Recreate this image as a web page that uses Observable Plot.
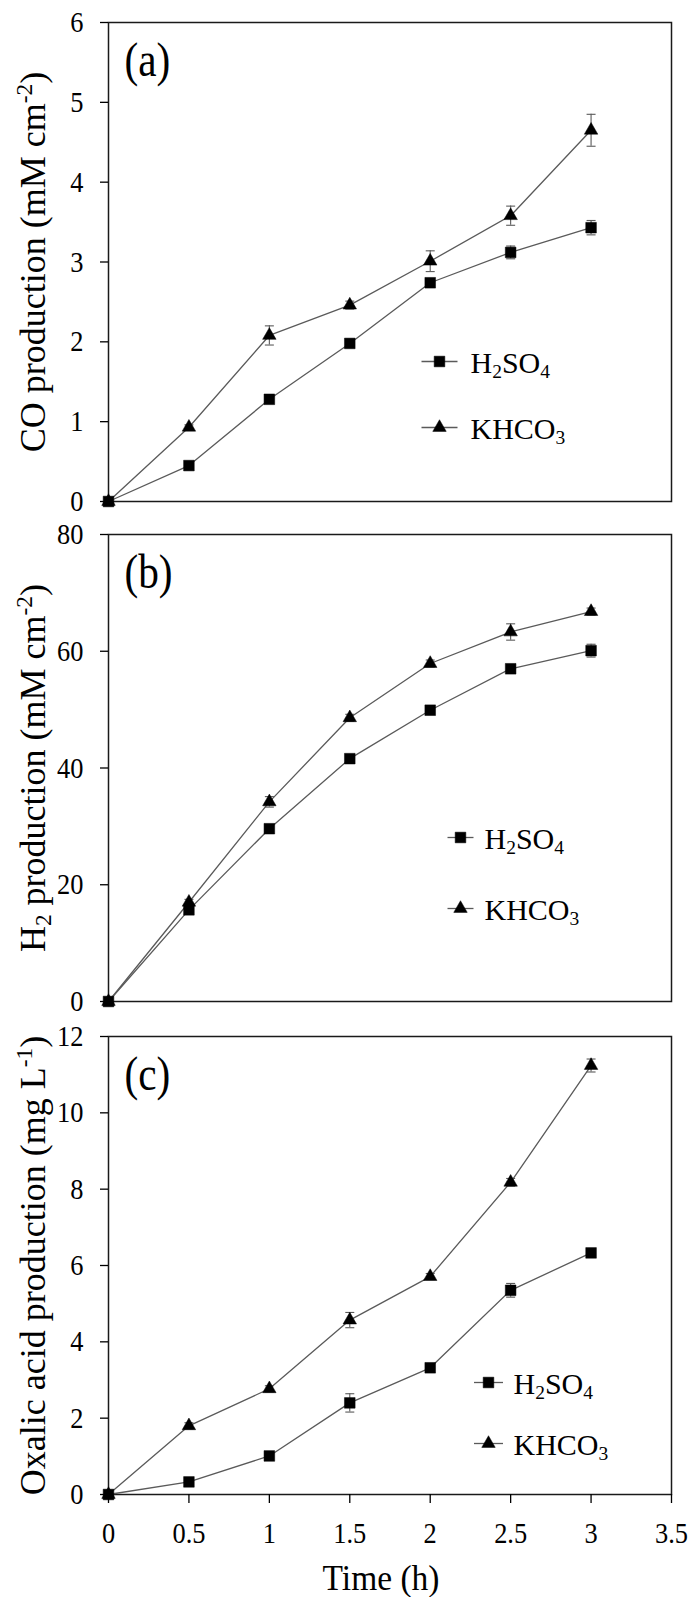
<!DOCTYPE html>
<html><head><meta charset="utf-8">
<script src="https://cdn.jsdelivr.net/npm/d3@7"></script>
<script src="https://cdn.jsdelivr.net/npm/@observablehq/plot@0.6"></script>
<style>
html,body{margin:0;padding:0;background:#fff;}
#chart{width:691px;}
#chart svg{display:block;overflow:visible;}
</style></head><body><div id="chart"></div>
<script>
// ---- data ----
const time = [0, 0.5, 1, 1.5, 2, 2.5, 3];
const seriesNames = ["H_{2}SO_{4}", "KHCO_{3}"];
const xTicks = [0, 0.5, 1, 1.5, 2, 2.5, 3, 3.5];
const xTitle = "Time (h)";

const coH2SO4 = [0, 0.45, 1.28, 1.98, 2.74, 3.12, 3.43];
const coH2SO4Err = [0, 0.03, 0.04, 0.05, 0.05, 0.08, 0.09];
const coKHCO3 = [0, 0.93, 2.08, 2.46, 3.01, 3.58, 4.65];
const coKHCO3Err = [0, 0.03, 0.12, 0.05, 0.13, 0.12, 0.2];
const coTicks = [0, 1, 2, 3, 4, 5, 6];
const coTitle = "CO production (mM cm^{-2})";

const h2H2SO4 = [0, 15.7, 29.6, 41.6, 49.9, 57.0, 60.1];
const h2H2SO4Err = [0, 0.5, 0.6, 0.6, 0.6, 0.7, 1.1];
const h2KHCO3 = [0, 17.0, 34.2, 48.6, 57.9, 63.3, 66.8];
const h2KHCO3Err = [0, 0.5, 0.9, 0.6, 0.6, 1.4, 0.6];
const h2Ticks = [0, 20, 40, 60, 80];
const h2Title = "H_{2} production (mM cm^{-2})";

const oxH2SO4 = [0, 0.33, 1.01, 2.4, 3.32, 5.35, 6.33];
const oxH2SO4Err = [0, 0.05, 0.06, 0.24, 0.08, 0.18, 0.08];
const oxKHCO3 = [0, 1.8, 2.77, 4.57, 5.71, 8.18, 11.24];
const oxKHCO3Err = [0, 0.08, 0.08, 0.2, 0.08, 0.1, 0.17];
const oxTicks = [0, 2, 4, 6, 8, 10, 12];
const oxTitle = "Oxalic acid production (mg L^{-1})";

const panelTags = ["(a)", "(b)", "(c)"];

// ---- drawing ----
const FONT = '"Liberation Serif","Times New Roman",Times,serif';
const LINE = "#5a5a5a";

function rows(v, e, name) { return time.map((t, i) => ({t, v: v[i], e: e[i], s: name})); }
const cap = {draw(ctx) { ctx.moveTo(-4.5, 0); ctx.lineTo(4.5, 0); }};
function seg(L) { return {draw(ctx) { ctx.moveTo(-L, 0); ctx.lineTo(L, 0); }}; }

function panel(cfg) {
  const [sq, tri] = [rows(cfg.a, cfg.ae, seriesNames[0]), rows(cfg.b, cfg.be, seriesNames[1])];
  const all = sq.concat(tri);
  const marks = [
    Plot.frame({stroke: "#1a1a1a", strokeWidth: 1.5}),
    Plot.axisY(cfg.ticks, {tickSize: 8, tickPadding: 17, fontSize: 30, tickFormat: d => String(d), strokeWidth: 1.3, label: null}),
    Plot.ruleX(all, {x: "t", y1: d => d.v - d.e, y2: d => d.v + d.e, stroke: LINE, strokeWidth: 1.1}),
    Plot.dot(all, {x: "t", y: d => d.v + d.e, symbol: cap, r: 1, stroke: LINE, fill: "none", strokeWidth: 1.1}),
    Plot.dot(all, {x: "t", y: d => d.v - d.e, symbol: cap, r: 1, stroke: LINE, fill: "none", strokeWidth: 1.1}),
    Plot.line(all, {x: "t", y: "v", z: "s", stroke: LINE, strokeWidth: 1.3}),
    Plot.dot(tri, {x: "t", y: "v", symbol: "triangle", r: 5, fill: "black", stroke: "black", strokeWidth: 0.5}),
    Plot.dot(sq, {x: "t", y: "v", symbol: "square", r: 6, fill: "black", stroke: "black", strokeWidth: 0.5}),
    Plot.text([cfg.tag], {frameAnchor: "top-left", dx: 16, dy: 19, text: d => d, textAnchor: "start", lineAnchor: "top", fontSize: 48}),
    Plot.text([cfg.title], {frameAnchor: "left", dx: -64, text: d => d, rotate: -90, lineAnchor: "bottom", textAnchor: "middle", fontSize: 36})
  ];
  // legend
  const L = cfg.leg;
  [["square", 6], ["triangle", 5]].forEach(([sym, r], i) => {
    const dy = L.rows[i];
    marks.push(Plot.dot([0], {frameAnchor: "top-left", dx: L.mx, dy, symbol: seg(L.half), r: 1, stroke: LINE, fill: "none", strokeWidth: 1.3}));
    marks.push(Plot.dot([0], {frameAnchor: "top-left", dx: L.mx, dy, symbol: sym, r, fill: "black", stroke: "black", strokeWidth: 0.5}));
    marks.push(Plot.text([seriesNames[i]], {frameAnchor: "top-left", dx: L.tx, dy: dy + 2, text: d => d, textAnchor: "start", lineAnchor: "middle", fontSize: 30}));
  });
  if (cfg.xaxis) {
    marks.push(Plot.axisX(xTicks, {tickSize: 9, tickPadding: 18, fontSize: 30, tickFormat: d => String(d), strokeWidth: 1.3, label: null}));
    marks.push(Plot.text([xTitle], {frameAnchor: "bottom", dx: -9, dy: 95, text: d => d, lineAnchor: "bottom", fontSize: 36}));
  }
  return Plot.plot({
    width: 691, height: cfg.h,
    marginLeft: 108, marginRight: 20, marginTop: cfg.mt, marginBottom: cfg.mb,
    x: {domain: [0, 3.5], axis: null},
    y: {domain: cfg.domain, axis: null},
    style: {fontFamily: FONT, color: "black", background: "white", overflow: "visible"},
    marks
  });
}

const root = document.getElementById("chart");
root.append(panel({a: coH2SO4, ae: coH2SO4Err, b: coKHCO3, be: coKHCO3Err, ticks: coTicks, domain: [0, 6], title: coTitle, tag: panelTags[0],
  h: 517, mt: 22, mb: 16, leg: {mx: 331, tx: 362, half: 18, rows: [339, 405]}}));
root.append(panel({a: h2H2SO4, ae: h2H2SO4Err, b: h2KHCO3, be: h2KHCO3Err, ticks: h2Ticks, domain: [0, 80], title: h2Title, tag: panelTags[1],
  h: 501, mt: 17, mb: 17, leg: {mx: 352, tx: 376, half: 13, rows: [303, 374]}}));
root.append(panel({a: oxH2SO4, ae: oxH2SO4Err, b: oxKHCO3, be: oxKHCO3Err, ticks: oxTicks, domain: [0, 12], title: oxTitle, tag: panelTags[2],
  h: 579, mt: 18, mb: 103, leg: {mx: 380, tx: 405, half: 14.5, rows: [346, 407]}, xaxis: true}));

// sub/superscript rendering
function rich(el) {
  const s = el.textContent;
  if (!/[_^]\{/.test(s)) return;
  const fs = parseFloat(getComputedStyle(el).fontSize) || 30;
  const parts = []; const re = /([_^])\{([^}]*)\}/g; let last = 0, m;
  while ((m = re.exec(s))) {
    if (m.index > last) parts.push({t: s.slice(last, m.index), k: 0});
    parts.push({t: m[2], k: m[1] === "_" ? 1 : -1});
    last = re.lastIndex;
  }
  if (last < s.length) parts.push({t: s.slice(last), k: 0});
  el.textContent = "";
  let cur = 0;
  for (const p of parts) {
    const ts = document.createElementNS("http://www.w3.org/2000/svg", "tspan");
    const target = p.k === 1 ? 0.17 * fs : p.k === -1 ? -0.36 * fs : 0;
    if (target !== cur) ts.setAttribute("dy", (target - cur).toFixed(2));
    cur = target;
    if (p.k) ts.setAttribute("font-size", (0.65 * fs).toFixed(2));
    ts.textContent = p.t;
    el.appendChild(ts);
  }
}
root.querySelectorAll("text").forEach(rich);

// the reference typeface is narrow: squeeze selected labels along their baseline
function squeeze(el, sx) {
  el.setAttribute("transform", ((el.getAttribute("transform") || "") + ` scale(${sx},1)`).trim());
}
root.querySelectorAll('g[aria-label="y-axis tick label"] text, g[aria-label="x-axis tick label"] text').forEach(el => squeeze(el, 0.88));
root.querySelectorAll("text").forEach(el => {
  const t = el.textContent;
  if (panelTags.includes(t)) squeeze(el, 0.86);
  else if (t === xTitle) squeeze(el, 0.93);
});
</script></body></html>
